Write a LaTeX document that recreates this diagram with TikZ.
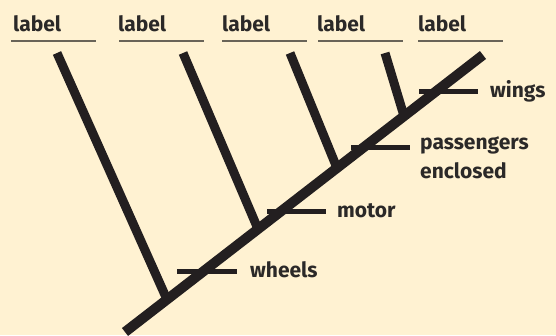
\documentclass[tikz,border=0pt]{standalone}
\usepackage{fontspec}
\setmainfont{Fira Sans}
\usetikzlibrary{calc}
\definecolor{bg}{RGB}{255,242,210}
\definecolor{ink}{RGB}{35,31,32}
\definecolor{txt}{RGB}{43,41,40}
\definecolor{rule}{RGB}{105,100,88}
\tikzset{
  lbl/.style={font=\bfseries\fontsize{21}{24}\selectfont, text=txt, inner sep=0pt, anchor=base west},
  chr/.style={font=\bfseries\fontsize{21}{29}\selectfont, text=txt, inner sep=0pt, anchor=base west, align=left},
  uline/.style={draw=rule, line width=1.6pt},
  trunk/.style={draw=ink, line width=10pt},
  branch/.style={draw=ink, line width=9pt},
  bar/.style={draw=ink, line width=5pt}
}
\begin{document}
\begin{tikzpicture}[x=1pt,y=-1pt]
\fill[bg] (0,0) rectangle (556,335);
\useasboundingbox (0,0) rectangle (556,335);
% labels
\foreach \i/\x in {1/13, 2/118, 3/222, 4/317, 5/418}{
  \node[lbl] (l\i) at (\x,31.7) {label};
}
\draw[uline] (11,41) -- (96,41);
\draw[uline] (119,41) -- (204,41);
\draw[uline] (222,41) -- (307,41);
\draw[uline] (318,41) -- (403,41);
\draw[uline] (418,41) -- (503,41);
% trunk
\coordinate (root) at (125,332);
\coordinate (t5) at (483,55);
\draw[trunk] (root) -- (t5);
% branch tips and joins
\coordinate (t1) at (57,53);
\coordinate (t2) at (183,53);
\coordinate (t3) at (290,53);
\coordinate (t4) at (385,53);
\coordinate (j1) at (167,299.5);
\coordinate (j2) at (258,229);
\coordinate (j3) at (337,168);
\coordinate (j4) at (404,116);
\draw[branch] (t1) -- (j1);
\draw[branch] (t2) -- (j2);
\draw[branch] (t3) -- (j3);
\draw[branch] (t4) -- (j4);
% character bars
\coordinate (w1) at (419,91);  \coordinate (w2) at (478,91);
\coordinate (p1) at (351,147); \coordinate (p2) at (410,147);
\coordinate (m1) at (267,211); \coordinate (m2) at (326,211);
\coordinate (h1) at (177,271); \coordinate (h2) at (237,271);
\draw[bar] (w1) -- (w2);
\draw[bar] (p1) -- (p2);
\draw[bar] (m1) -- (m2);
\draw[bar] (h1) -- (h2);
\node[chr] (wings) at (490,97) {wings};
\node[chr] (pass) at (420,178) {passengers\\enclosed};
\node[chr] (motor) at (337,217) {motor};
\node[chr] (wheels) at (250,277) {wheels};
\end{tikzpicture}
\end{document}
